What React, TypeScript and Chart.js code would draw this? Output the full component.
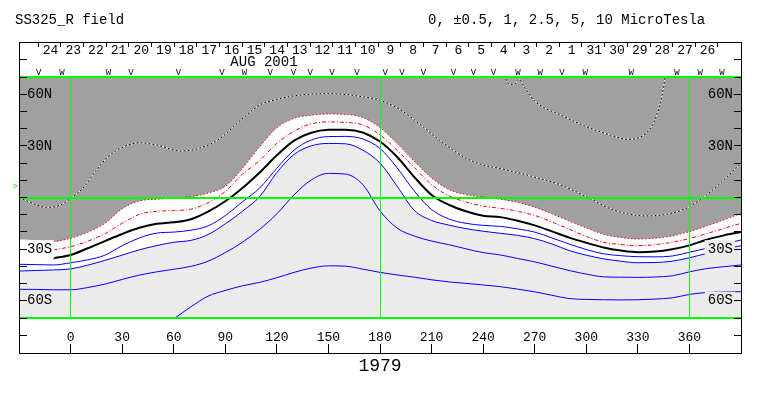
import React, { useEffect, useRef } from 'react';
import { Chart, registerables } from 'chart.js';

Chart.register(...registerables);

// ---------- data (Carrington longitude in degrees, latitude in degrees) ----------
const LON = [-30, -20, -10, 0, 10, 20, 30, 40, 50, 60, 70, 80, 90, 100, 110, 120, 130, 140, 150, 160, 170, 180, 190, 200, 210, 220, 230, 240, 250, 260, 270, 280, 290, 300, 310, 320, 330, 340, 350, 360, 370, 380, 390];

// neutral line (0 uT)
const LAT_ZERO = [null, null, -35.3, -33.4, -29.5, -25.3, -21.2, -17.6, -15.3, -14.4, -12.6, -8.2, -2.2, 5.5, 14.5, 24.5, 33, 37.6, 39.3, 39.4, 37.8, 32.5, 23.5, 11.8, 1.5, -4.2, -8, -10.6, -11.4, -13.5, -16.2, -19.7, -23.3, -26.3, -29, -30.8, -31.8, -31.4, -30, -27.8, -24.5, -22, -20];
// positive contours
const LAT_POS_05 = [-38.8, -39, -39.2, -37.9, -36.2, -33.5, -28, -23.5, -20.7, -20.1, -19, -16.5, -10.5, -2.5, 5.5, 17, 27.5, 33.4, 35.4, 35.5, 34, 28.5, 17.2, 3.7, -7, -12.4, -15, -16.2, -16.8, -18.2, -20.1, -23.5, -27, -30.2, -32.7, -33.8, -34.4, -34.5, -34, -31.8, -29.5, -27, -24.7];
const LAT_POS_1 = [-42.7, -42.4, -42.1, -41.5, -39.3, -36.5, -33.5, -30.4, -28, -26, -24.9, -21.5, -15.3, -8, 0.5, 14.5, 25, 30, 31.4, 31.2, 27.5, 20, 6.5, -7.5, -13.3, -16, -18.1, -19.6, -20.8, -22, -23.9, -27, -30.8, -33.5, -35.6, -37, -37.9, -37.8, -37, -35, -32.5, -30, -28];
const LAT_POS_25 = [-53.3, -53.4, -53.6, -53.6, -52.3, -50.3, -47.6, -45.1, -43.2, -41.7, -40, -37, -32, -26, -18.5, -9.5, 1.5, 10.2, 14, 13.6, 7.5, -7.8, -17.8, -22.4, -25.3, -27.4, -29.8, -32, -33.4, -35.4, -37.4, -39.9, -42.4, -44.5, -46.1, -46.3, -46.4, -46.2, -45.5, -43.2, -41.3, -40.2, -39.2];
const LAT_POS_5 = [null, null, null, null, null, null, null, null, null, -70.5, -63.5, -57.3, -54, -51.3, -49.3, -46.6, -43.5, -41, -39.7, -39.9, -41.6, -43.5, -45, -46.3, -47.8, -49, -49.9, -50.8, -51.8, -53.2, -54.8, -56.8, -58.7, -59.2, -59.4, -59.5, -59.4, -59, -58.3, -56.3, -55.2, -54.9, -54.7];
// negative contours
const LAT_NEG_05 = [null, null, -30.5, -28.6, -25.4, -21, -15, -9.8, -8, -7.6, -6.8, -3, 3.5, 13.5, 21.5, 31.5, 38.5, 42.8, 43.9, 43.6, 42.2, 36.4, 27.4, 17.4, 7.5, 1, -2.6, -5, -6.3, -8, -10.4, -14.2, -18.4, -22.6, -26, -27.3, -28, -27.4, -26, -23.8, -21, -18, -15];
const LAT_NEG_1 = [-24.3, -25, -25.7, -23.7, -20.2, -15, -6.5, -2, -1, -0.4, 0.5, 2.6, 6.5, 17, 29.5, 40.5, 46, 47.8, 48.5, 48.2, 46.5, 40.6, 31.3, 21, 11.3, 4.7, 1.7, 0.2, -1, -2.8, -5.6, -9.5, -13.6, -17.6, -21.3, -23.2, -24.1, -23.6, -22.3, -19.8, -16.5, -13, -9.2];
const LON_NEG_25 = [-30, -22, -14, -6, 0, 8, 15, 23, 31, 40, 50, 64, 75, 87, 99, 110, 120, 130, 140, 150, 160, 170, 180, 192, 205, 217, 230, 240, 250, 269, 285, 300, 316, 335, 351, 360, 370, 382, 390];
const LAT_NEG_25 = [0, -3.4, -5.7, -4.4, -0.5, 6.3, 16, 24.7, 29.5, 31.8, 30.5, 27, 28.6, 34.4, 45, 53.7, 57, 59, 60, 60.3, 59.8, 58.5, 56.5, 50.8, 41.1, 31.5, 22.8, 18.9, 16.8, 12.1, 7.3, 0.5, -7.3, -10.7, -8.8, -5.3, 1.5, 12.1, 19.9];
const LON_NEG_5 = [252, 255, 258, 261, 264, 270, 285, 300, 314, 324, 333, 339, 343, 345, 346];
const LAT_NEG_5 = [71, 66, 65.5, 68.5, 64, 56, 47.9, 41.2, 36.3, 33.8, 36, 43, 54.7, 64.4, 71];
const LINE_START_LON = -10;

// axes / annotations
const X_TICKS = [0, 30, 60, 90, 120, 150, 180, 210, 240, 270, 300, 330, 360];
const GRID_LONS = [0, 180, 360];
const GRID_LATS = [70, 0, -70];
const LAT_TICKS = [-80, -70, -60, -50, -40, -30, -20, -10, 0, 10, 20, 30, 40, 50, 60, 70, 80];
const LAT_LABEL_VALUES = [60, 30, -30, -60];
const LAT_LABEL_TEXT = ['60N', '30N', '30S', '60S'];
const DAY_TICK_LONS = [-18.8, -5.6, 7.6, 20.7, 33.9, 47.1, 60.3, 73.5, 86.6, 99.8, 113, 126.2, 139.4, 152.5, 165.7, 178.9, 192.1, 205.3, 218.4, 231.6, 244.8, 258, 271.2, 284.3, 297.5, 310.7, 323.9, 337.1, 350.2, 363.4, 376.6];
const DAY_LABELS = ['24', '23', '22', '21', '20', '19', '18', '17', '16', '15', '14', '13', '12', '11', '10', '9', '8', '7', '6', '5', '4', '3', '2', '1', '31', '30', '29', '28', '27', '26'];
const MARK_LONS = [-18.6, -5, 22.1, 35.1, 62.8, 88.1, 101.2, 116.1, 129.7, 139.4, 152, 166.6, 183, 192.7, 205.3, 222.8, 234.4, 246, 260.2, 273.2, 285.8, 299.4, 326.1, 352.7, 366.2, 378.9];
const MARK_TEXT = ['V', 'W', 'W', 'V', 'V', 'V', 'W', 'V', 'V', 'V', 'V', 'V', 'V', 'V', 'V', 'V', 'V', 'V', 'W', 'W', 'V', 'W', 'W', 'W', 'W', 'W'];
const MONTH_LABEL = 'AUG 2001';
const MONTH_LON = 112.5;
const B0_LAT = 6.5;
const ROTATION = '1979';
const TITLE = 'SS325_R field';
const LEVELS = '0, \u00b10.5, 1, 2.5, 5, 10 MicroTesla';

const DARK = '#a0a0a0';
const LIGHT = '#ebebeb';
const GREEN = '#00ff00';
const MONO = '"Liberation Mono", "DejaVu Sans Mono", monospace';

const pts = (lons: number[], lats: (number | null)[]) => lons.map((x, i) => ({ x, y: lats[i] }));

export default function App() {
  const ref = useRef<HTMLCanvasElement>(null);

  useEffect(() => {
    const canvas = ref.current;
    if (!canvas) return;

    const line = (data: any[], color: string, width: number, dash: number[] = []) => ({
      data, borderColor: color, borderWidth: width, borderDash: dash, pointRadius: 0,
      fill: false, cubicInterpolationMode: 'monotone', spanGaps: false,
    });
    const area = (data: any[], color: string) => ({
      data, borderColor: 'rgba(0,0,0,0)', borderWidth: 1, backgroundColor: color, pointRadius: 0,
      fill: 'end', cubicInterpolationMode: 'monotone',
    });

    const neg1 = pts(LON, LAT_NEG_1);
    const datasets: any[] = [
      line(pts(LON, LAT_ZERO), '#000000', 2),
      line(pts(LON, LAT_POS_05), '#0000ff', 1),
      line(pts(LON, LAT_POS_1), '#0000ff', 1),
      line(pts(LON, LAT_POS_25), '#0000ff', 1),
      line(pts(LON, LAT_POS_5), '#0000ff', 1),
      line(pts(LON, LAT_NEG_05), '#ff0000', 1, [4, 2, 1, 2]),
      line(neg1.filter(p => p.x >= LINE_START_LON), '#ff0000', 1, [1.5, 2]),
      line(pts(LON_NEG_25, LAT_NEG_25), '#000000', 1, [2, 2]),
      line(pts(LON_NEG_25, LAT_NEG_25), '#ffffff', 1),
      line(pts(LON_NEG_5, LAT_NEG_5), '#000000', 1, [2, 2]),
      line(pts(LON_NEG_5, LAT_NEG_5), '#ffffff', 1),
      area(neg1, DARK),
      area(pts(LON, LAT_POS_1), '#ffffff'),
    ];

    const txt = (ctx: CanvasRenderingContext2D, s: string, x: number, y: number, size: number, align: CanvasTextAlign = 'left', color = '#000') => {
      ctx.font = `${size}px ${MONO}`;
      ctx.textAlign = align;
      ctx.textBaseline = 'middle';
      ctx.fillStyle = color;
      ctx.fillText(s, x, y);
    };

    const decor = {
      id: 'decor',
      beforeDraw(chart: any) {
        const { ctx, chartArea: a } = chart;
        ctx.save();
        ctx.fillStyle = '#ffffff';
        ctx.fillRect(0, 0, chart.width, chart.height);
        ctx.fillStyle = LIGHT;
        ctx.fillRect(a.left, a.top, a.right - a.left, a.bottom - a.top);
        ctx.restore();
      },
      afterDatasetsDraw(chart: any) {
        const { ctx, chartArea: a, scales } = chart;
        const xs = scales.x, ys = scales.y;
        ctx.save();
        ctx.strokeStyle = GREEN;
        ctx.lineWidth = 1;
        ctx.beginPath();
        GRID_LONS.forEach(v => {
          const px = Math.floor(xs.getPixelForValue(v)) + 0.5;
          ctx.moveTo(px, a.top); ctx.lineTo(px, a.bottom);
        });
        ctx.stroke();
        ctx.lineWidth = 2;
        ctx.beginPath();
        GRID_LATS.forEach(v => {
          const py = Math.round(ys.getPixelForValue(v));
          ctx.moveTo(a.left, py); ctx.lineTo(a.right, py);
        });
        ctx.stroke();

        // latitude labels (with knock-out boxes in the southern part)
        ctx.font = `14px ${MONO}`;
        LAT_LABEL_VALUES.forEach((lat, i) => {
          const s = LAT_LABEL_TEXT[i];
          const py = ys.getPixelForValue(lat);
          const w = ctx.measureText(s).width;
          const lx = a.left + 8;
          const rx = a.right - 8;
          if (lat < 0) {
            ctx.fillStyle = lat === -30 ? '#ffffff' : LIGHT;
            ctx.fillRect(lx - 2, py - 9, w + 4, 18);
            ctx.fillStyle = LIGHT;
            ctx.fillRect(rx - w - 3, py - 9, w + 5, 18);
          }
          txt(ctx, s, lx, py, 14, 'left');
          txt(ctx, s, rx, py, 14, 'right');
        });
        ctx.restore();
      },
      afterDraw(chart: any) {
        const { ctx, scales } = chart;
        const xs = scales.x, ys = scales.y;
        const xL = Math.round(xs.getPixelForValue(-30));
        const xR = Math.round(xs.getPixelForValue(390));
        const yT = Math.floor(ys.getPixelForValue(90));
        const yB = Math.ceil(ys.getPixelForValue(-90));
        ctx.save();
        ctx.strokeStyle = '#000';
        ctx.lineWidth = 1;
        ctx.strokeRect(xL + 0.5, yT + 0.5, xR - xL, yB - yT);
        ctx.beginPath();
        LAT_TICKS.forEach(v => {
          const py = Math.floor(ys.getPixelForValue(v)) + 0.5;
          ctx.moveTo(xL, py); ctx.lineTo(xL + 8, py);
          ctx.moveTo(xR - 7, py); ctx.lineTo(xR + 1, py);
        });
        X_TICKS.forEach(v => {
          const px = Math.floor(xs.getPixelForValue(v)) + 0.5;
          ctx.moveTo(px, yB - 9); ctx.lineTo(px, yB);
        });
        DAY_TICK_LONS.forEach(v => {
          const px = Math.floor(xs.getPixelForValue(v)) + 0.5;
          ctx.moveTo(px, yT); ctx.lineTo(px, yT + 5);
        });
        ctx.stroke();

        X_TICKS.forEach(v => txt(ctx, String(v), xs.getPixelForValue(v), yB - 15, 13, 'center'));
        DAY_LABELS.forEach((s, i) => {
          const mid = (DAY_TICK_LONS[i] + DAY_TICK_LONS[i + 1]) / 2;
          txt(ctx, s, xs.getPixelForValue(mid) + 1, yT + 9, 13, 'center');
        });
        txt(ctx, MONTH_LABEL, xs.getPixelForValue(MONTH_LON), yT + 20, 14, 'center');
        MARK_LONS.forEach((v, i) => txt(ctx, MARK_TEXT[i], xs.getPixelForValue(v), yT + 31, 9, 'center'));
        txt(ctx, '>', xL - 1, ys.getPixelForValue(B0_LAT), 9, 'right', GREEN);
        txt(ctx, ROTATION, xs.getPixelForValue(180), yB + 13, 18, 'center');
        txt(ctx, TITLE, 15, 20, 14, 'left');
        txt(ctx, LEVELS, 428, 20, 14, 'left');
        ctx.restore();
      },
    };

    const chart = new Chart(canvas, {
      type: 'line',
      data: { datasets },
      options: {
        responsive: false,
        animation: false,
        devicePixelRatio: 1,
        events: [],
        layout: { padding: { left: 19, top: 77, right: 22, bottom: 78 } },
        scales: {
          x: { type: 'linear', min: -30, max: 390, display: false },
          y: { type: 'linear', min: -70, max: 70, display: false },
        },
        plugins: {
          legend: { display: false },
          tooltip: { enabled: false },
          filler: { propagate: false },
        },
      } as any,
      plugins: [decor],
    });
    return () => chart.destroy();
  }, []);

  return (
    <div style={{ position: 'absolute', left: 0, top: 0, width: 763, height: 396, background: '#fff' }}>
      <canvas ref={ref} width={763} height={396} style={{ display: 'block' }} />
    </div>
  );
}
